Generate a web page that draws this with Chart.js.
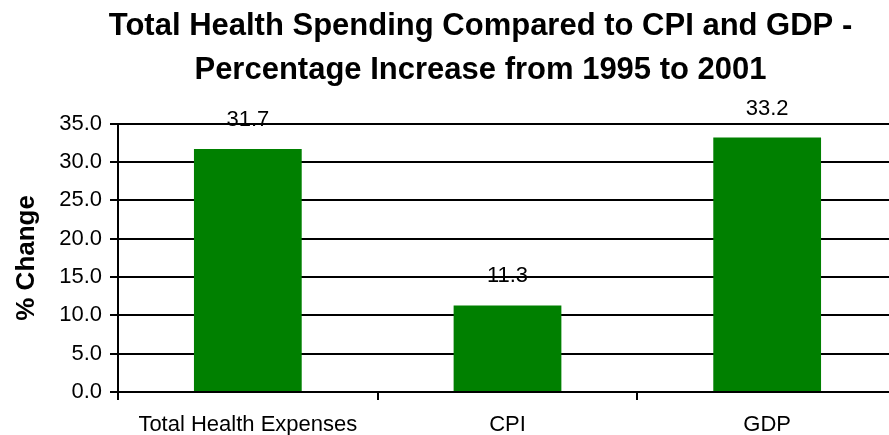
<!DOCTYPE html>
<html>
<head>
<meta charset="utf-8">
<script src="https://cdn.jsdelivr.net/npm/chart.js@4/dist/chart.umd.min.js"></script>
<style>
  html, body { margin: 0; padding: 0; background: #fff; overflow: hidden; }
  #wrap { width: 961px; height: 435px; }
</style>
</head>
<body>
<div id="wrap"><canvas id="c" width="961" height="435"></canvas></div>
<script>
// Percentage increase, 1995 to 2001
const categories = ['Total Health Expenses', 'CPI', 'GDP'];
const percentChange = [31.7, 11.3, 33.2];
const titleLines = ['Total Health Spending Compared to CPI and GDP -', 'Percentage Increase from 1995 to 2001'];
const yAxisTitle = '% Change';

const FONT = '"Liberation Sans", Arial, Helvetica, sans-serif';

// Writes each bar's value above it
const valueLabels = {
  id: 'valueLabels',
  afterDatasetsDraw(chart) {
    const ctx = chart.ctx;
    const meta = chart.getDatasetMeta(0);
    ctx.save();
    ctx.font = '22px ' + FONT;
    ctx.fillStyle = '#000';
    ctx.textAlign = 'center';
    ctx.textBaseline = 'middle';
    meta.data.forEach((bar, i) => {
      ctx.fillText(percentChange[i].toFixed(1), bar.x, bar.y - 29);
    });
    ctx.restore();
  }
};

new Chart(document.getElementById('c'), {
  type: 'bar',
  data: {
    labels: categories,
    datasets: [{
      data: percentChange,
      backgroundColor: '#008000',
      borderWidth: 0,
      barPercentage: 0.415,
      categoryPercentage: 1.0
    }]
  },
  options: {
    responsive: false,
    animation: false,
    layout: { padding: 0 },
    plugins: {
      legend: { display: false },
      tooltip: { enabled: false },
      title: {
        display: true,
        text: titleLines,
        color: '#000',
        font: { family: FONT, size: 31, weight: 'bold', lineHeight: 1.4 },
        padding: { top: 5, bottom: 32 }
      }
    },
    scales: {
      x: {
        afterFit(scale) { scale.height = 43; },
        grid: {
          display: true,
          drawOnChartArea: false,
          drawTicks: true,
          tickLength: 8,
          color: '#000',
          lineWidth: 2,
          offset: true
        },
        border: { display: true, color: '#000', width: 2 },
        ticks: {
          color: '#000',
          font: { family: FONT, size: 22 },
          padding: 12,
          maxRotation: 0
        }
      },
      y: {
        min: 0,
        max: 35,
        afterFit(scale) { scale.width = 118; },
        grid: {
          color: '#000',
          lineWidth: 2,
          tickLength: 8,
          drawTicks: true
        },
        border: { display: true, color: '#000', width: 2 },
        ticks: {
          stepSize: 5,
          color: '#000',
          font: { family: FONT, size: 22 },
          padding: 8,
          callback: (v) => Number(v).toFixed(1)
        },
        title: {
          display: true,
          text: yAxisTitle,
          color: '#000',
          font: { family: FONT, size: 26, weight: 'bold' },
          padding: { top: 11, bottom: 0 }
        }
      },
      // empty margin on the right side of the plot
      yRight: {
        position: 'right',
        min: 0,
        max: 35,
        afterFit(scale) { scale.width = 64; },
        grid: { display: false },
        border: { display: false },
        ticks: { display: false }
      }
    }
  },
  plugins: [valueLabels]
});
</script>
</body>
</html>
